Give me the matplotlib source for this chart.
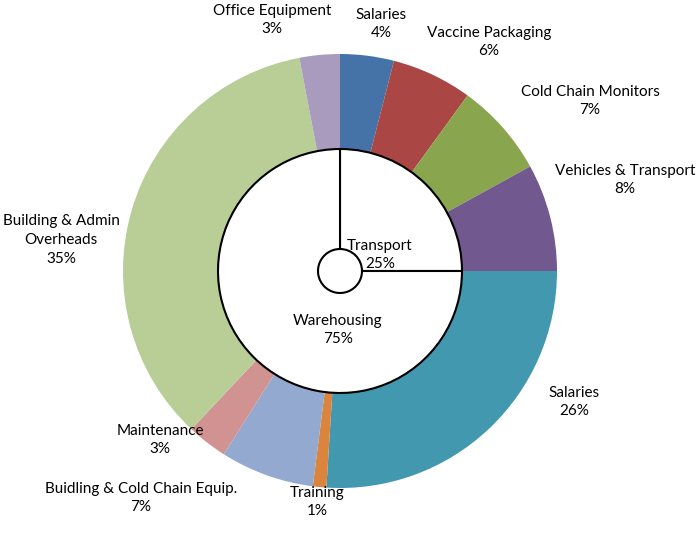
"""
Donut chart: cold chain cost breakdown, Transport vs Warehousing.
Output: out.png
"""
import numpy as np
import matplotlib
matplotlib.use("Agg")
import matplotlib.pyplot as plt

plt.rcParams.update({
    "font.family": ["Lato", "DejaVu Sans"],
    "font.size":   11,
})

# Outer ring (clockwise from 12 o'clock)
outer_labels = ["Salaries", "Vaccine Packaging", "Cold Chain Monitors",
                "Vehicles & Transport", "Salaries", "Training",
                "Buidling & Cold Chain Equip.", "Maintenance",
                "Building & Admin\nOverheads", "Office Equipment"]
outer_pct = [4, 6, 7, 8, 26, 1, 7, 3, 35, 3]
outer_colors = ["#4572A7", "#AA4643", "#89A54E", "#71588F", "#4198AF",
                "#DB843D", "#93A9CF", "#D19392", "#B9CD96", "#A99BBD"]

# Inner ring
inner_labels = ["Transport", "Warehousing"]
inner_pct = [25, 75]

# Layout (pixel coords, y up)
W, H = 696, 543
CX, CY = 340, 543 - 271
R_OUT, R_MID, R_IN = 217, 122, 22

# label centres for the outer ring
outer_label_pos = [(381, 519), (489, 501), (590, 442), (625, 363), (574, 141),
                   (317, 41), (141, 45), (160, 103), (61, 303), (272, 523)]
inner_label_pos = [(380, 288), (338, 213)]

fig = plt.figure(figsize=(W / 100, H / 100), dpi=100)
ax = fig.add_axes([0, 0, 1, 1])
ax.set_xlim(0, W)
ax.set_ylim(0, H)
ax.set_aspect("equal")
ax.axis("off")

ax.pie(outer_pct, colors=outer_colors, startangle=90, counterclock=False,
       center=(CX, CY), radius=R_OUT,
       wedgeprops=dict(width=R_OUT - R_MID, linewidth=0))

ax.pie(inner_pct, colors=["white", "white"], startangle=90, counterclock=False,
       center=(CX, CY), radius=R_MID,
       wedgeprops=dict(width=R_MID - R_IN, edgecolor="black", linewidth=1.5))

ax.set_xlim(0, W)
ax.set_ylim(0, H)

for lbl, pct, (x, y) in zip(outer_labels, outer_pct, outer_label_pos):
    ax.text(x, y, f"{lbl}\n{pct}%", ha="center", va="center",
            color="black", linespacing=1.45)

for lbl, pct, (x, y) in zip(inner_labels, inner_pct, inner_label_pos):
    ax.text(x, y, f"{lbl}\n{pct}%", ha="center", va="center",
            color="black", linespacing=1.45)

fig.savefig("out.png", dpi=100)
plt.close(fig)
